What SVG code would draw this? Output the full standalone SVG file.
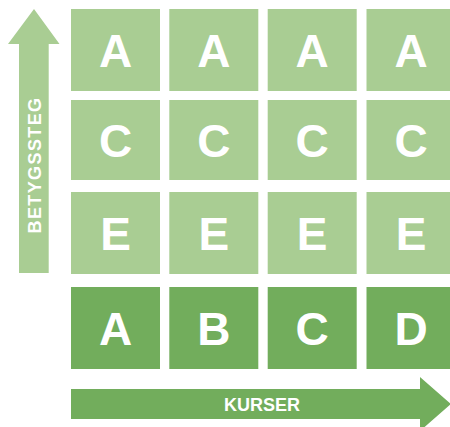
<svg xmlns="http://www.w3.org/2000/svg" width="450" height="427" viewBox="0 0 450 427">
<style>
.l{fill:#A9CD93}
.d{fill:#72AD5C}
.t{font-family:"Liberation Sans",Arial,sans-serif;font-weight:bold;font-size:46px;fill:#fff;text-anchor:middle}
.a{font-family:"Liberation Sans",Arial,sans-serif;font-weight:bold;font-size:18px;fill:#fff;text-anchor:middle}
</style>
<rect width="450" height="427" fill="#fff"/>
<g id="connectors">
<polygon class="l" points="34,9 59.5,44 48.7,44 48.7,273 19,273 19,44 8,44"/>
<text class="a" transform="translate(40.5,165) rotate(-90)" letter-spacing="1.4">BETYGSSTEG</text>
<polygon class="d" points="71,389 420,389 420,377 451,404 420,431 420,419 71,419"/>
<text class="a" x="262" y="410.5">KURSER</text>
</g>
<g id="r1c1"><rect class="l" x="71" y="9" width="89" height="82"/><text class="t" x="115.5" y="66.5">A</text></g>
<g id="r1c2"><rect class="l" x="169.3" y="9" width="89" height="82"/><text class="t" x="213.8" y="66.5">A</text></g>
<g id="r1c3"><rect class="l" x="267.7" y="9" width="89" height="82"/><text class="t" x="312.2" y="66.5">A</text></g>
<g id="r1c4"><rect class="l" x="366.5" y="9" width="89" height="82"/><text class="t" x="411" y="66.5">A</text></g>
<g id="r2c1"><rect class="l" x="71" y="100" width="89" height="80"/><text class="t" x="115.5" y="156.5">C</text></g>
<g id="r2c2"><rect class="l" x="169.3" y="100" width="89" height="80"/><text class="t" x="213.8" y="156.5">C</text></g>
<g id="r2c3"><rect class="l" x="267.7" y="100" width="89" height="80"/><text class="t" x="312.2" y="156.5">C</text></g>
<g id="r2c4"><rect class="l" x="366.5" y="100" width="89" height="80"/><text class="t" x="411" y="156.5">C</text></g>
<g id="r3c1"><rect class="l" x="71" y="192" width="89" height="82"/><text class="t" x="115.5" y="249.5">E</text></g>
<g id="r3c2"><rect class="l" x="169.3" y="192" width="89" height="82"/><text class="t" x="213.8" y="249.5">E</text></g>
<g id="r3c3"><rect class="l" x="267.7" y="192" width="89" height="82"/><text class="t" x="312.2" y="249.5">E</text></g>
<g id="r3c4"><rect class="l" x="366.5" y="192" width="89" height="82"/><text class="t" x="411" y="249.5">E</text></g>
<g id="r4c1"><rect class="d" x="71" y="287" width="89" height="82"/><text class="t" x="115.5" y="345">A</text></g>
<g id="r4c2"><rect class="d" x="169.3" y="287" width="89" height="82"/><text class="t" x="213.8" y="345">B</text></g>
<g id="r4c3"><rect class="d" x="267.7" y="287" width="89" height="82"/><text class="t" x="312.2" y="345">C</text></g>
<g id="r4c4"><rect class="d" x="366.5" y="287" width="89" height="82"/><text class="t" x="411" y="345">D</text></g>
</svg>
